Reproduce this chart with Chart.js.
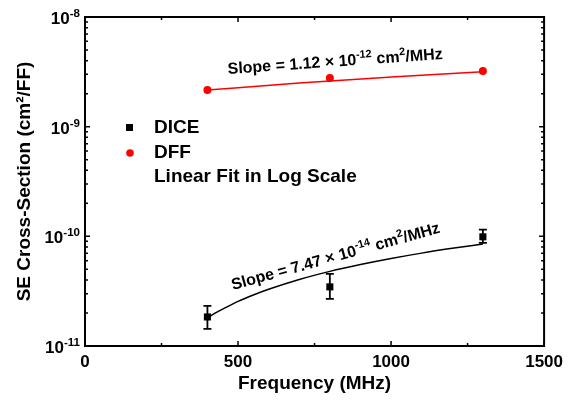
<!DOCTYPE html>
<html>
<head>
<meta charset="utf-8">
<script src="https://cdn.jsdelivr.net/npm/chart.js@4/dist/chart.umd.min.js"></script>
<style>
  html, body { margin: 0; padding: 0; background: #fff; }
  #wrap { width: 569px; height: 401px; }
</style>
</head>
<body>
<div id="wrap"><canvas id="seChart"></canvas></div>
<script>
const freqs = [400, 800, 1300];
const diceVals = [1.84e-11, 3.46e-11, 9.9e-11];
const diceErrLow = [1.43e-11, 2.69e-11, 8.7e-11];
const diceErrHigh = [2.32e-11, 4.54e-11, 1.15e-10];
const dffVals = [2.16e-9, 2.78e-9, 3.22e-9];

// fit lines (linear fit drawn on log axis)
const diceFitX = [400, 425, 450, 500, 550, 600, 700, 800, 900, 1000, 1100, 1200, 1300];
const diceFitY = [1.80e-11, 1.99e-11, 2.17e-11, 2.55e-11, 2.92e-11, 3.29e-11, 4.04e-11, 4.79e-11, 5.53e-11, 6.28e-11, 7.03e-11, 7.77e-11, 8.52e-11];
const dffFitX = [400, 700, 1000, 1300];
const dffFitY = [2.16e-9, 2.50e-9, 2.83e-9, 3.17e-9];

const xTicks = [0, 500, 1000, 1500];
const xMinor = [250, 750, 1250];
const yExps = [-11, -10, -9, -8];

const FONT = "'Liberation Sans', Arial, sans-serif";

// text with a raised superscript part: parts = [[text, isSup], ...]
function drawRich(ctx, parts, x, y, size, align) {
  const supSize = size * 0.68;
  let total = 0;
  parts.forEach(p => {
    ctx.font = "bold " + (p[1] ? supSize : size) + "px " + FONT;
    total += ctx.measureText(p[0]).width;
  });
  let cx = align === "right" ? x - total : (align === "center" ? x - total / 2 : x);
  ctx.textAlign = "left";
  ctx.textBaseline = "alphabetic";
  parts.forEach(p => {
    ctx.font = "bold " + (p[1] ? supSize : size) + "px " + FONT;
    ctx.fillText(p[0], cx, p[1] ? y - size * 0.42 : y);
    cx += ctx.measureText(p[0]).width;
  });
}

const framePlugin = {
  id: "frame",
  afterDraw(chart) {
    const ctx = chart.ctx;
    const a = chart.chartArea;
    const xs = chart.scales.x, ys = chart.scales.y;
    ctx.save();
    ctx.strokeStyle = "#000";
    ctx.fillStyle = "#000";
    ctx.lineWidth = 2;
    ctx.strokeRect(a.left, a.top, a.right - a.left, a.bottom - a.top);

    // inward ticks on all four sides
    ctx.lineWidth = 1.5;
    ctx.beginPath();
    xTicks.forEach(v => {
      const px = xs.getPixelForValue(v);
      ctx.moveTo(px, a.bottom); ctx.lineTo(px, a.bottom - 5);
      ctx.moveTo(px, a.top); ctx.lineTo(px, a.top + 5);
    });
    xMinor.forEach(v => {
      const px = xs.getPixelForValue(v);
      ctx.moveTo(px, a.bottom); ctx.lineTo(px, a.bottom - 3);
      ctx.moveTo(px, a.top); ctx.lineTo(px, a.top + 3);
    });
    yExps.forEach(e => {
      const py = ys.getPixelForValue(Math.pow(10, e));
      ctx.moveTo(a.left, py); ctx.lineTo(a.left + 5, py);
      ctx.moveTo(a.right, py); ctx.lineTo(a.right - 5, py);
      if (e < -8) {
        for (let m = 2; m <= 9; m++) {
          const pm = ys.getPixelForValue(m * Math.pow(10, e));
          ctx.moveTo(a.left, pm); ctx.lineTo(a.left + 3, pm);
          ctx.moveTo(a.right, pm); ctx.lineTo(a.right - 3, pm);
        }
      }
    });
    ctx.stroke();

    // y tick labels 10^n
    yExps.forEach(e => {
      const py = ys.getPixelForValue(Math.pow(10, e));
      drawRich(ctx, [["10", false], [String(e), true]], a.left - 5, py + 7, 17, "right");
    });

    // error bars on DICE
    ctx.lineWidth = 1.8;
    ctx.beginPath();
    freqs.forEach((f, i) => {
      const px = xs.getPixelForValue(f);
      const p1 = ys.getPixelForValue(diceErrLow[i]);
      const p2 = ys.getPixelForValue(diceErrHigh[i]);
      ctx.moveTo(px, p1); ctx.lineTo(px, p2);
      ctx.moveTo(px - 4, p1); ctx.lineTo(px + 4, p1);
      ctx.moveTo(px - 4, p2); ctx.lineTo(px + 4, p2);
    });
    ctx.stroke();

    // legend
    ctx.fillRect(126, 124, 7, 7);
    ctx.fillStyle = "#ff0000";
    ctx.beginPath(); ctx.arc(130, 153, 3.8, 0, Math.PI * 2); ctx.fill();
    ctx.fillStyle = "#000";
    ctx.font = "bold 19px " + FONT;
    ctx.textAlign = "left";
    ctx.textBaseline = "middle";
    ctx.fillText("DICE", 154, 128);
    ctx.fillText("DFF", 154, 153);
    ctx.fillText("Linear Fit in Log Scale", 154, 177);

    // slope annotations
    ctx.save();
    ctx.translate(228, 74);
    ctx.rotate(-0.07);
    drawRich(ctx, [["Slope = 1.12 \u00d7 10", false], ["-12", true], [" cm", false], ["2", true], ["/MHz", false]], 0, 0, 16, "left");
    ctx.restore();

    ctx.save();
    ctx.translate(233, 290);
    ctx.rotate(-0.27);
    drawRich(ctx, [["Slope = 7.47 \u00d7 10", false], ["-14", true], [" cm", false], ["2", true], ["/MHz", false]], 0, 0, 16, "left");
    ctx.restore();

    ctx.restore();
  }
};

new Chart(document.getElementById("seChart"), {
  type: "scatter",
  data: {
    datasets: [
      {
        label: "DICE",
        data: freqs.map((f, i) => ({ x: f, y: diceVals[i] })),
        pointStyle: "rect",
        pointRadius: 5,
        borderWidth: 0,
        backgroundColor: "#000",
        borderColor: "#000",
        showLine: false
      },
      {
        label: "DFF",
        data: freqs.map((f, i) => ({ x: f, y: dffVals[i] })),
        pointStyle: "circle",
        pointRadius: 4,
        borderWidth: 0,
        backgroundColor: "#ff0000",
        borderColor: "#ff0000",
        showLine: false
      },
      {
        label: "DICE fit",
        data: diceFitX.map((f, i) => ({ x: f, y: diceFitY[i] })),
        showLine: true,
        pointRadius: 0,
        borderColor: "#000",
        borderWidth: 1.5,
        cubicInterpolationMode: "monotone"
      },
      {
        label: "DFF fit",
        data: dffFitX.map((f, i) => ({ x: f, y: dffFitY[i] })),
        showLine: true,
        pointRadius: 0,
        borderColor: "#ff0000",
        borderWidth: 1.5,
        cubicInterpolationMode: "monotone"
      }
    ]
  },
  options: {
    responsive: true,
    maintainAspectRatio: false,
    animation: false,
    layout: { padding: { top: 17, right: 20, left: 0, bottom: 0 } },
    plugins: { legend: { display: false }, tooltip: { enabled: false } },
    scales: {
      x: {
        type: "linear",
        min: 0,
        max: 1500,
        afterBuildTicks(scale) { scale.ticks = xTicks.map(v => ({ value: v })); },
        afterFit(scale) { scale.height = 55; },
        grid: { display: false, drawTicks: false },
        border: { display: false },
        ticks: {
          color: "#000",
          font: { family: FONT, size: 17, weight: "bold" },
          padding: 6,
          callback: v => String(v)
        },
        title: {
          display: true,
          text: "Frequency (MHz)",
          color: "#000",
          font: { family: FONT, size: 19, weight: "bold" },
          padding: { top: 0, bottom: 6 }
        }
      },
      y: {
        type: "logarithmic",
        min: 1e-11,
        max: 1e-8,
        afterFit(scale) { scale.width = 85; },
        grid: { display: false },
        border: { display: false },
        ticks: { display: false },
        title: {
          display: true,
          text: "SE Cross-Section (cm\u00b2/FF)",
          color: "#000",
          font: { family: FONT, size: 19, weight: "bold" },
          padding: { top: 13, bottom: 0 }
        }
      }
    }
  },
  plugins: [framePlugin]
});
</script>
</body>
</html>
